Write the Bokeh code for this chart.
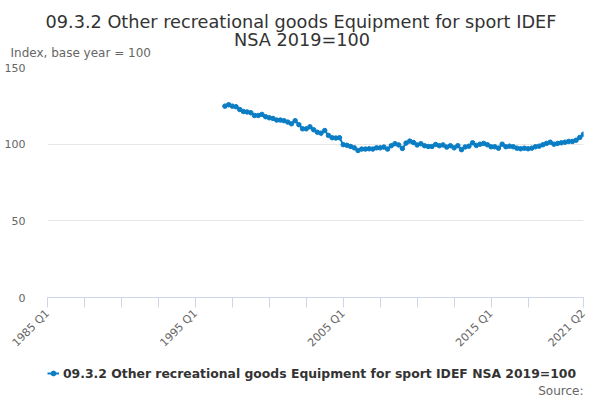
import math
from bokeh.plotting import figure
from bokeh.layouts import column
from bokeh.models import (Range1d, FixedTicker, Legend, LegendItem, Title, Label,
                          ColumnDataSource)
from bokeh.embed import file_html
from bokeh.resources import INLINE

# ---- data ----
categories = [f"{y} Q{q}" for y in range(1985, 2022) for q in range(1, 5)]
categories = categories[:categories.index("2021 Q2") + 1]
series_name = "09.3.2 Other recreational goods Equipment for sport IDEF NSA 2019=100"
series_start = "1997 Q1"
series_values = [
    124.8, 125.7, 124.8, 124.4, 122.6, 121.3, 121.0, 120.5, 118.7, 118.7,
    119.4, 117.9, 117.2, 116.8, 115.7, 115.7, 115.3, 114.4, 113.3, 115.3,
    112.7, 110.0, 110.0, 111.3, 109.4, 107.8, 107.2, 108.9, 105.7, 104.2,
    104.0, 104.2, 99.7, 99.3, 98.5, 97.6, 95.9, 96.8, 96.8, 97.0,
    96.8, 97.6, 97.6, 98.1, 96.8, 99.0, 100.3, 99.5, 97.2, 100.7,
    102.0, 101.1, 99.5, 100.3, 99.0, 98.5, 98.5, 99.8, 99.0, 99.5,
    98.1, 99.0, 97.6, 99.0, 96.4, 98.2, 98.7, 100.9, 99.2, 100.0,
    100.5, 99.6, 98.3, 98.3, 97.4, 100.0, 98.3, 98.7, 98.3, 97.4,
    97.0, 97.4, 97.0, 97.4, 98.3, 98.7, 99.6, 100.5, 101.3, 100.0,
    100.5, 100.9, 101.3, 101.8, 101.8, 102.6, 104.4, 106.5,
]
tick_labels = ["1985 Q1", "1995 Q1", "2005 Q1", "2015 Q1", "2021 Q2"]
y_ticks = [0, 50, 100, 150]
title_lines = ["09.3.2 Other recreational goods Equipment for sport IDEF", "NSA 2019=100"]
y_title = "Index, base year = 100"
source_text = "Source:"

# ---- derived ----
x0 = categories.index(series_start)
xs = [x0 + i for i in range(len(series_values))]
n_last = len(categories) - 1
major_ticks = [categories.index(t) for t in tick_labels]
minor_ticks = [i for i in range(0, 131, 10) if i not in major_ticks]

FONT = "DejaVu Sans"
BLUE = "#0a7dc4"
MAIN_H = 357
BOT_H = 400 - MAIN_H

p = figure(width=600, height=MAIN_H, x_range=Range1d(0, n_last), y_range=Range1d(0, 150),
           title=None, output_backend="svg", toolbar_location=None,
           min_border_left=47, min_border_right=17, min_border_top=67, min_border_bottom=60)
p.outline_line_color = None
p.background_fill_color = "white"
p.border_fill_color = "white"

xa = p.xaxis[0]
xa.ticker = FixedTicker(ticks=major_ticks, minor_ticks=minor_ticks)
xa.major_label_overrides = {t: lab for t, lab in zip(major_ticks, tick_labels)}
xa.major_label_orientation = math.pi / 4
xa.axis_line_color = "#ccd6eb"
xa.major_tick_line_color = "#ccd6eb"
xa.minor_tick_line_color = "#ccd6eb"
xa.major_tick_out = 10
xa.major_tick_in = 0
xa.minor_tick_out = 10
xa.minor_tick_in = 0
xa.major_label_text_color = "#666666"
xa.major_label_text_font = FONT
xa.major_label_text_font_size = "11px"
xa.major_label_standoff = 4
p.xgrid.visible = False

ya = p.yaxis[0]
ya.ticker = FixedTicker(ticks=y_ticks)
ya.axis_line_color = None
ya.major_tick_line_color = None
ya.minor_tick_line_color = None
ya.major_label_text_color = "#666666"
ya.major_label_text_font = FONT
ya.major_label_text_font_size = "11px"
ya.major_label_standoff = 16
p.ygrid.ticker = FixedTicker(ticks=y_ticks)
p.ygrid.grid_line_color = "#e6e6e6"

p.line(xs, series_values, line_color=BLUE, line_width=2)
p.scatter(xs, series_values, size=4.5, fill_color=BLUE, line_color=BLUE)

# ---- titles above (first added = closest to the frame) ----
p.add_layout(Title(text=y_title, align="left", offset=-37, standoff=12, vertical_align="top",
                   text_font=FONT, text_font_size="12px", text_font_style="normal",
                   text_color="#666666"), "above")
p.add_layout(Title(text=title_lines[1], align="left", offset=186.5, standoff=-20,
                   vertical_align="bottom", text_font=FONT, text_font_size="17.7px",
                   text_font_style="normal", text_color="#333333"), "above")
p.add_layout(Title(text=title_lines[0], align="left", offset=-2, standoff=11.4,
                   vertical_align="bottom", text_font=FONT, text_font_size="17.7px",
                   text_font_style="normal", text_color="#333333"), "above")

# ---- bottom strip: legend + source (page pixel coordinates) ----
bot = figure(width=600, height=BOT_H, x_range=Range1d(47, 583), y_range=Range1d(400, MAIN_H),
             x_axis_type=None, y_axis_type=None, output_backend="svg",
             toolbar_location=None, min_border=0)
bot.outline_line_color = None
bot.grid.visible = False
bot.background_fill_color = "white"
bot.border_fill_color = "white"

# legend-key renderers (single undefined point, nothing is drawn in the strip)
key_src = ColumnDataSource(data=dict(x=[float("nan")], y=[float("nan")]))
lg_line = bot.line("x", "y", source=key_src, line_color=BLUE, line_width=2)
lg_pt = bot.scatter("x", "y", source=key_src, size=4.5, fill_color=BLUE, line_color=BLUE)
legend = Legend(items=[LegendItem(label=series_name, renderers=[lg_line, lg_pt])],
                location=(0, 17), orientation="horizontal")
legend.label_text_font = FONT
legend.label_text_font_size = "12.4px"
legend.label_text_font_style = "bold"
legend.label_text_color = "#333333"
legend.border_line_color = None
legend.background_fill_alpha = 0
legend.padding = 0
legend.margin = 0
legend.glyph_width = 12
legend.glyph_height = 20
legend.label_height = 20
legend.label_standoff = 4
bot.add_layout(legend)
bot.add_layout(Label(x=583, y=390, text=source_text, text_align="right", text_baseline="middle",
                     text_font=FONT, text_font_size="12px", text_color="#666666"))

layout = column(p, bot, spacing=0)
open("out.html", "w").write(file_html(layout, INLINE))
